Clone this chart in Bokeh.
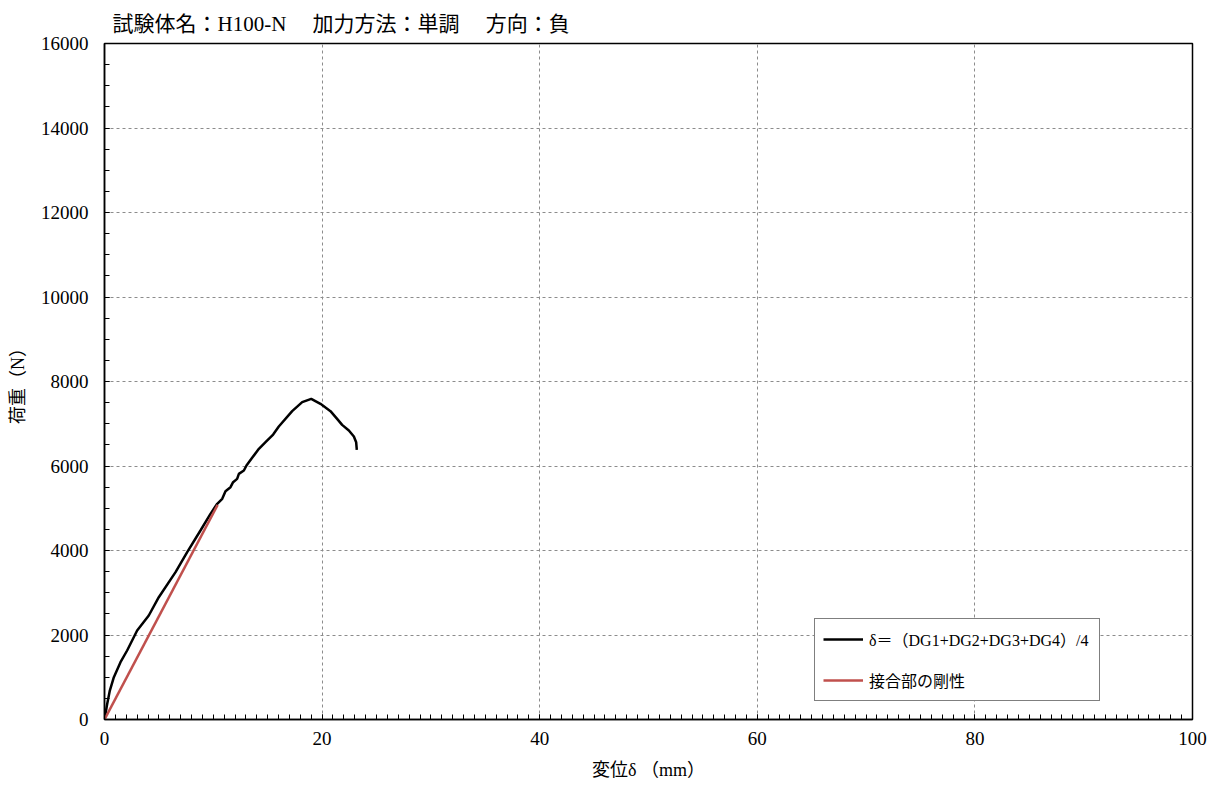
from bokeh.plotting import figure
from bokeh.models import SingleIntervalTicker, Range1d, Legend, LegendItem, ColumnDataSource
from bokeh.embed import file_html
from bokeh.resources import INLINE

# Load-displacement record (average of DG1..DG4), mm / N
disp_mm = [0.0, 0.25, 0.49, 0.86, 1.47, 2.08, 3.0, 4.07, 4.99, 6.53, 7.6, 8.82,
           9.74, 10.36, 10.82, 11.12, 11.58, 11.82, 12.19, 12.35, 12.81, 13.05,
           13.57, 14.19, 14.8, 15.5, 16.02, 17.25, 18.17, 19.0, 19.85, 20.77,
           21.38, 21.84, 22.46, 22.92, 23.13, 23.19]
load_n = [0, 371, 686, 1002, 1357, 1633, 2107, 2461, 2895, 3487, 3960, 4473,
          4868, 5105, 5223, 5404, 5499, 5617, 5696, 5814, 5893, 6012,
          6193, 6406, 6564, 6745, 6935, 7298, 7511, 7590, 7471, 7298,
          7116, 6974, 6840, 6698, 6564, 6383]

# Joint stiffness line
stiff_x = [0.0, 10.4]
stiff_y = [0, 5080]

x_ticks = [0, 20, 40, 60, 80, 100]
y_ticks = [0, 2000, 4000, 6000, 8000, 10000, 12000, 14000, 16000]

SERIF = "'Liberation Serif', 'Noto Sans CJK JP'"

p = figure(width=1216, height=785, output_backend="svg", toolbar_location=None,
           x_range=Range1d(x_ticks[0], x_ticks[-1]),
           y_range=Range1d(y_ticks[0], y_ticks[-1]),
           min_border_left=104, min_border_right=24, min_border_top=43,
           min_border_bottom=66,
           title="試験体名：H100-N　 加力方法：単調　 方向：負")

p.title.text_font = SERIF
p.title.text_font_size = "21px"
p.title.text_font_style = "normal"
p.title.text_color = "black"
p.title.offset = 8
p.title.standoff = 16

p.background_fill_color = "white"
p.border_fill_color = "white"
p.outline_line_color = "black"
p.outline_line_width = 1.5

p.xaxis.ticker = SingleIntervalTicker(interval=20, num_minor_ticks=20)
p.yaxis.ticker = SingleIntervalTicker(interval=2000, num_minor_ticks=4)

for ax in (p.xaxis[0], p.yaxis[0]):
    ax.axis_line_color = "black"
    ax.axis_line_width = 1.5
    ax.major_tick_in = 5
    ax.major_tick_out = 0
    ax.minor_tick_in = 5
    ax.minor_tick_out = 0
    ax.major_tick_line_color = "black"
    ax.minor_tick_line_color = "black"
    ax.major_label_text_font = SERIF
    ax.major_label_text_font_size = "19px"
    ax.major_label_text_color = "black"
    ax.axis_label_text_font = SERIF
    ax.axis_label_text_font_size = "18px"
    ax.axis_label_text_font_style = "normal"
    ax.axis_label_text_color = "black"

p.xaxis.axis_label = "変位δ （mm）"
p.yaxis.axis_label = "荷重（N）"
p.xaxis.major_label_standoff = 12
p.yaxis.major_label_standoff = 16
p.xaxis.axis_label_standoff = 12
p.yaxis.axis_label_standoff = 10

for g in (p.xgrid[0], p.ygrid[0]):
    g.grid_line_color = "#8c8c8c"
    g.grid_line_dash = "3 3"
    g.grid_line_width = 1

src_curve = ColumnDataSource(dict(x=disp_mm, y=load_n))
src_stiff = ColumnDataSource(dict(x=stiff_x, y=stiff_y))

r_curve = p.line("x", "y", source=src_curve, line_color="black", line_width=2.5)
r_stiff = p.line("x", "y", source=src_stiff, line_color="#c0504d", line_width=2.5)

legend = Legend(items=[
    LegendItem(label="δ＝（DG1+DG2+DG3+DG4）/4", renderers=[r_curve]),
    LegendItem(label="接合部の剛性", renderers=[r_stiff]),
], location=(710, 18))
legend.label_text_font = SERIF
legend.label_text_font_size = "16px"
legend.label_text_color = "black"
legend.glyph_width = 40
legend.glyph_height = 20
legend.label_height = 20
legend.label_width = 222
legend.label_standoff = 6
legend.spacing = 17
legend.padding = 8
legend.margin = 0
legend.border_line_color = "black"
legend.border_line_width = 1.2
legend.background_fill_color = "white"
legend.background_fill_alpha = 1.0
p.add_layout(legend, "center")

with open("out.html", "w") as f:
    f.write(file_html(p, INLINE))
